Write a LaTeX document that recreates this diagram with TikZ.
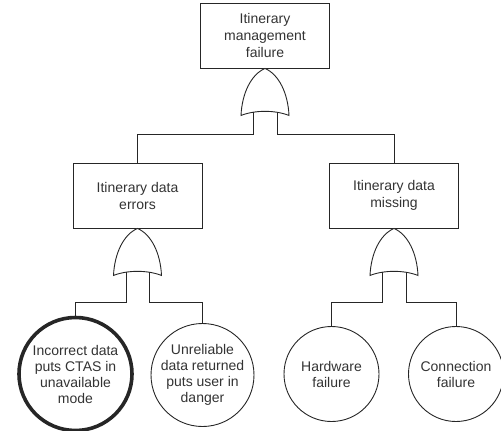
\documentclass[tikz,border=0pt]{standalone}
\usepackage{fontspec}
\setmainfont{Liberation Sans}
\usetikzlibrary{calc}
\begin{document}
\begin{tikzpicture}[x=1pt,y=-1pt,
  line/.style={draw=black!85,line width=0.9pt},
  txt/.style={font=\fontsize{14}{16}\selectfont,text=black!80,align=center},
  event/.style={line,txt,font=\fontsize{14}{17}\selectfont,rectangle,minimum width=129pt,minimum height=65pt,inner sep=0pt},
  basic/.style={line,txt,circle,minimum size=95pt,inner sep=0pt},
  primary/.style={basic,line width=3.6pt,minimum size=113pt},
  orgate/.pic={\draw[line,fill=white] (-24,47) .. controls (-23,25) and (-14,6) .. (0,0)
      .. controls (14,6) and (23,25) .. (24,47)
      .. controls (10,41.5) and (-10,41.5) .. cycle;}]
\useasboundingbox (0,0) rectangle (501,431);

% events
\node[event] (top) at (265,35.5) {Itinerary\\management\\failure};
\node[event] (err) at (137.5,195.5) {Itinerary data\\errors};
\node[event] (mis) at (394,195.5) {Itinerary data\\missing};

% basic events
\node[primary] (inc) at (75.5,374) {Incorrect data\\puts CTAS in\\unavailable\\mode};
\node[basic] (unr) at (202.5,375) {Unreliable\\data returned\\puts user in\\danger};
\node[basic] (hw) at (331.5,374) {Hardware\\failure};
\node[basic] (con) at (456,374) {Connection\\failure};

% OR gates under each intermediate event
\pic at (top.south) {orgate};
\pic at (err.south) {orgate};
\pic at (mis.south) {orgate};

% bus levels
\coordinate (bustop) at (0,134);
\coordinate (buslow) at (0,302);

% gate inputs
\draw[line] ($(top.south)+(-12,44)$) coordinate (t1) -- (t1 |- bustop) -| (err.north);
\draw[line] ($(top.south)+(12,44)$) coordinate (t2) -- (t2 |- bustop) -| (mis.north);
\draw[line] ($(err.south)+(-11.5,44)$) coordinate (e1) -- (e1 |- buslow) -| (inc.north);
\draw[line] ($(err.south)+(11.5,44)$) coordinate (e2) -- (e2 |- buslow) -| (unr.north);
\draw[line] ($(mis.south)+(-12,44)$) coordinate (m1) -- (m1 |- buslow) -| (hw.north);
\draw[line] ($(mis.south)+(12,44)$) coordinate (m2) -- (m2 |- buslow) -| (con.north);
\end{tikzpicture}
\end{document}
